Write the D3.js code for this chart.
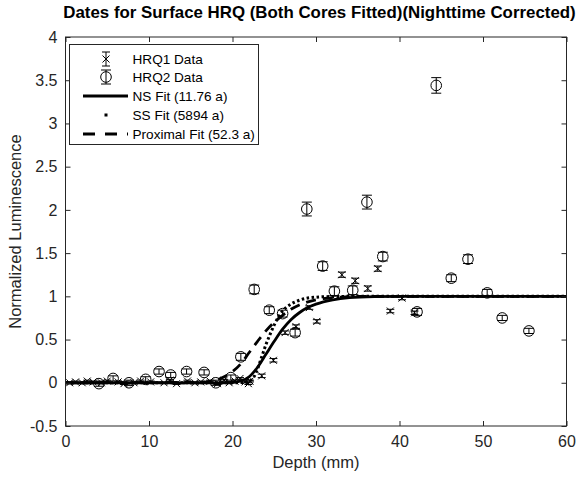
<!DOCTYPE html>
<html><head><meta charset="utf-8">
<script src="https://cdn.jsdelivr.net/npm/d3@7/dist/d3.min.js"></script>
<style>body{margin:0;background:#fff}svg{display:block}text{font-family:Arial,"Liberation Sans",sans-serif}</style>
</head><body>
<script>
// ---- data ----
const hrq1X = [0.5,1.2,2.0,2.6,3.3,4.3,5.0,6.3,7.0,8.2,9.0,10.2,11.8,12.5,13.3,14.6,15.5,16.2,17.3,18.2,19.0,19.6,20.3,20.9,21.5,21.9,22.1,23.5,24.9,26.3,27.6,29.2,30.1,33.1,34.7,36.2,37.4,38.9,40.3,41.8];
const hrq1Y = [0.0,0.01,0.0,0.02,0.01,0.0,0.02,0.01,-0.01,0.0,0.02,0.01,0.0,0.03,-0.01,0.02,0.0,0.01,0.02,-0.01,0.03,0.0,0.02,0.05,0.01,-0.01,0.02,0.08,0.26,0.58,0.65,0.87,0.71,1.25,1.18,1.09,1.32,0.83,0.98,0.81];
const hrq1E = [0.01,0.01,0.01,0.01,0.01,0.01,0.01,0.01,0.01,0.01,0.01,0.01,0.01,0.01,0.01,0.01,0.01,0.01,0.01,0.01,0.01,0.01,0.01,0.01,0.01,0.01,0.01,0.02,0.02,0.02,0.02,0.02,0.02,0.03,0.03,0.03,0.03,0.02,0.02,0.02];
const hrq2X = [4.0,5.7,7.6,9.6,11.2,12.6,14.5,16.6,18.0,19.8,21.0,22.6,24.4,26.0,27.5,28.9,30.8,32.2,34.4,36.1,38.0,42.1,44.4,46.2,48.2,50.5,52.3,55.5];
const hrq2Y = [-0.01,0.05,0.0,0.04,0.13,0.09,0.13,0.12,0.0,0.06,0.3,1.08,0.84,0.8,0.58,2.01,1.35,1.06,1.07,2.09,1.46,0.82,3.44,1.21,1.43,1.04,0.75,0.6];
const hrq2E = [0.03,0.03,0.03,0.03,0.03,0.03,0.03,0.03,0.03,0.03,0.04,0.05,0.04,0.04,0.04,0.08,0.05,0.05,0.05,0.08,0.05,0.04,0.09,0.04,0.05,0.04,0.03,0.03];
const nsX = [0,18,20,21,22,23,24,25,26,27,28,29,30,32,34,37,40,60];
const nsY = [0,0,0.003,0.02,0.07,0.18,0.33,0.48,0.62,0.73,0.81,0.87,0.91,0.96,0.985,0.997,1,1];
const ssX = [0,20,21.5,22.5,23,23.5,24,24.5,25,25.5,26,27,28,29,30,32,35,40,60];
const ssY = [0,0,0.005,0.06,0.16,0.3,0.44,0.56,0.67,0.76,0.83,0.91,0.955,0.98,0.99,0.998,1,1,1];
const pxX = [0,16,18,19,20,21,22,23,24,25,26,27,28,30,33,36,40,60];
const pxY = [0,0.005,0.03,0.07,0.13,0.22,0.35,0.48,0.6,0.7,0.78,0.85,0.9,0.96,0.99,1,1,1];
const xTicks = [0,10,20,30,40,50,60];
const yTicks = [-0.5,0,0.5,1,1.5,2,2.5,3,3.5,4];
const legendLabels = ["HRQ1 Data","HRQ2 Data","NS Fit (11.76 a)","SS Fit (5894 a)","Proximal Fit (52.3 a)"];
const titleText = "Dates for Surface HRQ (Both Cores Fitted)(Nighttime Corrected)";

// ---- chart ----
const W=578,H=479, L=65.5,R=566.5,T=37,B=426;
const FONT="Arial,'Liberation Sans',sans-serif";
const svg=d3.select("body").append("svg").attr("width",W).attr("height",H);
const x=d3.scaleLinear().domain([0,60]).range([L,R]);
const y=d3.scaleLinear().domain([-0.5,4]).range([B,T]);
const ax="#262626";

const plot=svg.append("g");
const line=(xs,ys)=>d3.line().x(i=>x(xs[i])).y(i=>y(ys[i])).curve(d3.curveMonotoneX)(d3.range(xs.length));

// fits
plot.append("path").attr("d",line(nsX,nsY)).attr("fill","none").attr("stroke","#000").attr("stroke-width",2.8);
plot.append("path").attr("d",line(ssX,ssY)).attr("fill","none").attr("stroke","#000").attr("stroke-width",3).attr("stroke-dasharray","2.5,2.5");
plot.append("path").attr("d",line(pxX,pxY)).attr("fill","none").attr("stroke","#000").attr("stroke-width",2.8).attr("stroke-dasharray","10,7");

function errbar(g,cx,cy,ey,cap){
  const y0=y(cy-ey),y1=y(cy+ey),X=x(cx);
  g.append("line").attr("x1",X).attr("x2",X).attr("y1",y0).attr("y2",y1);
  g.append("line").attr("x1",X-cap).attr("x2",X+cap).attr("y1",y0).attr("y2",y0);
  g.append("line").attr("x1",X-cap).attr("x2",X+cap).attr("y1",y1).attr("y2",y1);
}
const g1=plot.append("g").attr("stroke","#000").attr("stroke-width",1).attr("fill","none");
hrq1X.forEach((v,i)=>{
  errbar(g1,v,hrq1Y[i],hrq1E[i],4);
  const X=x(v),Y=y(hrq1Y[i]),s=3.5;
  g1.append("path").attr("d",`M${X-s},${Y-s}L${X+s},${Y+s}M${X-s},${Y+s}L${X+s},${Y-s}`);
});
const g2=plot.append("g").attr("stroke","#000").attr("stroke-width",1).attr("fill","none");
hrq2X.forEach((v,i)=>{
  errbar(g2,v,hrq2Y[i],hrq2E[i],5);
  g2.append("circle").attr("cx",x(v)).attr("cy",y(hrq2Y[i])).attr("r",5.3);
});

// frame
svg.append("rect").attr("x",L).attr("y",T).attr("width",R-L).attr("height",B-T).attr("fill","none").attr("stroke",ax).attr("stroke-width",1);
// axes
const xa=svg.append("g").attr("transform",`translate(0,${B})`).call(d3.axisBottom(x).tickValues(xTicks).tickSizeInner(-5).tickSizeOuter(0).tickPadding(10));
const xt=svg.append("g").attr("transform",`translate(0,${T})`).call(d3.axisTop(x).tickValues(xTicks).tickSizeInner(-5).tickSizeOuter(0).tickFormat(""));
const ya=svg.append("g").attr("transform",`translate(${L},0)`).call(d3.axisLeft(y).tickValues(yTicks).tickSizeInner(-5).tickSizeOuter(0).tickPadding(8).tickFormat(d=>String(d)));
const yr=svg.append("g").attr("transform",`translate(${R},0)`).call(d3.axisRight(y).tickValues(yTicks).tickSizeInner(-5).tickSizeOuter(0).tickFormat(""));
[xa,xt,ya,yr].forEach(g=>{g.select(".domain").remove();g.selectAll("line").attr("stroke",ax);g.selectAll("text").attr("fill",ax).style("font-size","16px").style("font-family",FONT);});
xa.selectAll("text").attr("dy","0.71em");

// labels
svg.append("text").attr("x",(L+R)/2).attr("y",468).attr("text-anchor","middle").attr("fill",ax).style("font-size","16.5px").text("Depth (mm)");
svg.append("text").attr("transform",`translate(21,${(T+B)/2}) rotate(-90)`).attr("text-anchor","middle").attr("fill",ax).style("font-size","16.5px").text("Normalized Luminescence");
const title=svg.append("text").attr("x",319.5).attr("y",18).attr("text-anchor","middle").attr("fill","#000").style("font-size","16px").style("font-weight","bold").text(titleText);
const tw=title.node().getComputedTextLength();
title.style("font-size",(16*513/tw).toFixed(2)+"px");

// legend
const lg=svg.append("g");
lg.append("rect").attr("x",69.5).attr("y",44.5).attr("width",189).attr("height",100).attr("fill","#fff").attr("stroke",ax).attr("stroke-width",1);
const rowY=[59,77,96,115,134], sx0=83, sx1=128, mx=106;
legendLabels.forEach((t,i)=>lg.append("text").attr("x",132.5).attr("y",rowY[i]+5).attr("fill","#000").style("font-size","13.6px").text(t));
const lg1=lg.append("g").attr("stroke","#000").attr("fill","none");
lg1.append("line").attr("x1",mx).attr("x2",mx).attr("y1",rowY[0]-7).attr("y2",rowY[0]+7);
[rowY[0]-7,rowY[0]+7].forEach(v=>lg1.append("line").attr("x1",mx-4).attr("x2",mx+4).attr("y1",v).attr("y2",v));
lg1.append("path").attr("d",`M${mx-3.5},${rowY[0]-3.5}L${mx+3.5},${rowY[0]+3.5}M${mx-3.5},${rowY[0]+3.5}L${mx+3.5},${rowY[0]-3.5}`);
lg1.append("line").attr("x1",mx).attr("x2",mx).attr("y1",rowY[1]-7).attr("y2",rowY[1]+7);
[rowY[1]-7,rowY[1]+7].forEach(v=>lg1.append("line").attr("x1",mx-5).attr("x2",mx+5).attr("y1",v).attr("y2",v));
lg1.append("circle").attr("cx",mx).attr("cy",rowY[1]).attr("r",5.3);
lg.append("line").attr("x1",sx0).attr("x2",sx1).attr("y1",rowY[2]).attr("y2",rowY[2]).attr("stroke","#000").attr("stroke-width",2.8);
lg.append("rect").attr("x",mx-1.5).attr("y",rowY[3]-1.5).attr("width",3).attr("height",3).attr("fill","#000");
lg.append("line").attr("x1",sx0).attr("x2",sx1).attr("y1",rowY[4]).attr("y2",rowY[4]).attr("stroke","#000").attr("stroke-width",2.8).attr("stroke-dasharray","12,10");
</script>
</body></html>
